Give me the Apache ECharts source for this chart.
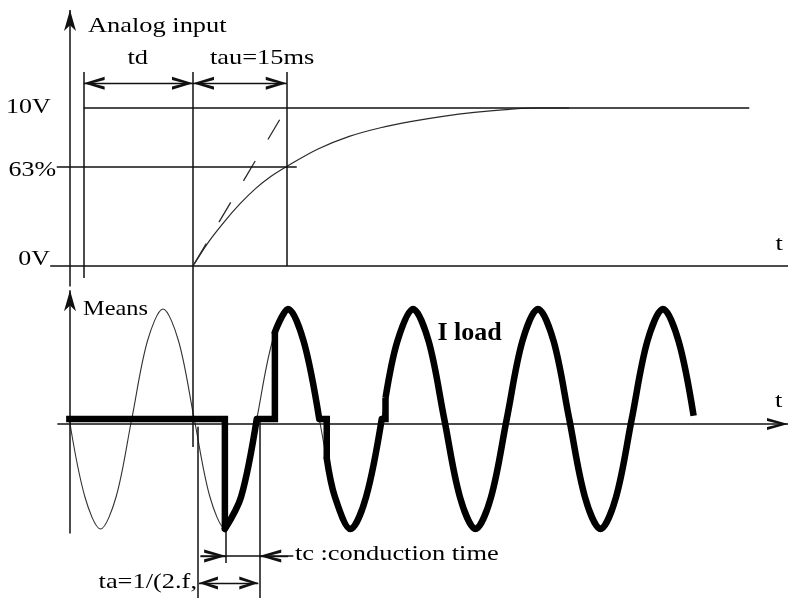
<!DOCTYPE html>
<html><head><meta charset="utf-8">
<script src="https://cdn.jsdelivr.net/npm/echarts@6/dist/echarts.min.js"></script>
<style>html,body{margin:0;padding:0;background:#fff}#c{width:788px;height:598px}</style>
</head><body><div id="c"></div>
<script>
// ===== DATA =====
// time axis in ms
const timeRange = [-4, 115];
// --- top panel: analog input (V) ---
const voltRange = [-12, 16.5];
const voltTickValues = [10, 6.3, 0];
const voltTickLabels = ['10V', '63%', '0V'];
const delayStart = 2.3;      // start of td
const stepTime = 19.8;       // end of td, start of ramp
const tauEnd = 34.8;         // stepTime + tau (15 ms)
const expTime = [19.8, 22.3, 24.8, 27.3, 29.8, 32.3, 34.8, 39.8, 44.8, 49.8, 54.8, 59.8, 64.8, 69.8, 74.8, 80];
const expVolt = [0, 1.53, 2.8, 3.93, 4.9, 5.68, 6.3, 7.4, 8.2, 8.75, 9.15, 9.47, 9.72, 9.9, 10, 10];
const tangentTime = [19.8, 33.85];
const tangentVolt = [0, 9.38];
// --- bottom panel: mains and load current (per-unit) ---
const signalRange = [-1.7, 1.5];
const mainsTime = [0, 2.5, 5, 7.5, 10, 12.5, 15, 17.5, 20, 22.5, 25, 27.5, 30, 32.5, 35, 37.5, 40, 42.5, 45, 47.5, 50, 52.5];
const mainsValue = [0, -0.707, -1, -0.707, 0, 0.707, 1, 0.707, 0, -0.707, -1, -0.707, 0, 0.707, 1, 0.707, 0, -0.707, -1, -0.707, 0, 0.707];
// zero-current intervals of the load current and the value reached at firing
const loadOffStart = [-0.5, 30, 40, 50];
const loadOffEnd = [24.9, 32.9, 41.2, 50.6];
const loadFireValue = [-1, 0.79, -0.36, 0.19];
// conducting arcs of the load current
const loadArcTime = [
  [24.9, 27.5, 30],
  [32.9, 35, 37.5, 40],
  [41.2, 42.5, 45, 47.5, 50],
  [50.6, 52.5, 55, 57.5, 60, 62.5, 65, 67.5, 70, 72.5, 75, 77.5, 80, 82.5, 85, 87.5, 90, 92.5, 95, 97.5, 99.9]
];
const loadArcValue = [
  [-1, -0.707, 0],
  [0.79, 1, 0.707, 0],
  [-0.36, -0.707, -1, -0.707, 0],
  [0.19, 0.707, 1, 0.707, 0, -0.707, -1, -0.707, 0, 0.707, 1, 0.707, 0, -0.707, -1, -0.707, 0, 0.707, 1, 0.707, 0.03]
];
const taTimes = [20.6, 30.4];   // ta = half period
const tcFire = 25.1;            // start of conduction
const labelTexts = ['Analog input', 'td', 'tau=15ms', 't', 'Means', 'I load', 't', 'tc :conduction time', 'ta=1/(2.f,'];

// ===== LAYOUT / STYLE =====
const INK = '#111';
const chevron = 'path://M6,0L12,20L9,20L6,8L3,20L0,20Z';
const stealth = 'path://M5,0L10,18L5,13L0,18Z';
const pxPerMs = 6.25, t0px = 69.25;
const gridLeft = t0px + timeRange[0] * pxPerMs;
const gridWidth = (timeRange[1] - timeRange[0]) * pxPerMs;
const pxPerVolt = 15.8, zeroVoltPx = 266;
const pxPerUnit = 110, zeroUnitPx = 419;

function lineSeries(grid, data, style, smooth, z) {
  return {type: 'line', xAxisIndex: grid, yAxisIndex: grid, data: data, smooth: smooth || false,
    showSymbol: false, symbol: 'none', clip: false, silent: true, animation: false,
    lineStyle: style, itemStyle: {color: style.color}, z: z || 2, emphasis: {disabled: true}};
}
// size = [w, h] of the arrow head (applies to both ends)
function markSeries(grid, segs, symbols, size, style, z) {
  return {type: 'line', xAxisIndex: grid, yAxisIndex: grid, data: [], clip: false, silent: true, animation: false, z: z || 3,
    markLine: {silent: true, animation: false, symbol: symbols, symbolSize: size,
      symbolOffset: [[0, size[1] / 2], [0, size[1] / 2]],
      label: {show: false}, emphasis: {disabled: true}, precision: 10,
      lineStyle: Object.assign({type: 'solid'}, style), itemStyle: {color: style.color},
      data: segs.map(s => [{coord: s[0]}, {coord: s[1]}])}};
}
const zip = (a, b) => a.map((x, i) => [x, b[i]]);
const thin = {color: INK, width: 1.5};

const series = [];
// top panel reference lines
series.push(markSeries(0, [
  [[-3.05, voltTickValues[2]], [timeRange[1], voltTickValues[2]]],
  [[delayStart, voltTickValues[0]], [108.8, voltTickValues[0]]],
  [[-2.0, voltTickValues[1]], [36.4, voltTickValues[1]]],
  [[delayStart, -0.76], [delayStart, 12.28]],
  [[stepTime, -11.46], [stepTime, 12.28]],
  [[tauEnd, 0], [tauEnd, 12.28]]
], ['none', 'none'], [1, 1], thin));
// top y axis with arrow
series.push(markSeries(0, [[[0.12, -1.3], [0.12, 16.2]]], ['none', stealth], [12, 21], thin));
// td and tau dimension arrows
series.push(markSeries(0, [
  [[delayStart, 11.56], [stepTime, 11.56]],
  [[stepTime, 11.56], [tauEnd, 11.56]]
], [chevron, chevron], [13, 21], {color: INK, width: 1.4}));
// exponential response
series.push(lineSeries(0, zip(expTime, expVolt), {color: '#2a2a2a', width: 1.2}, 0.33));
// initial tangent (dashed)
series.push(lineSeries(0, zip(tangentTime, tangentVolt), {color: '#2a2a2a', width: 1.3, type: [23, 25], dashOffset: 45}));

// bottom panel axes
series.push(markSeries(1, [[[0.12, -1.04], [0.12, 1.17]]], ['none', stealth], [12, 21], thin));
series.push(markSeries(1, [[[-1.9, -0.045], [timeRange[1], -0.045]]], ['none', chevron], [12, 21], thin));
// ta / tc helper lines
series.push(markSeries(1, [
  [[taTimes[0], -0.07], [taTimes[0], -1.7]],
  [[taTimes[1], 0.02], [taTimes[1], -1.7]],
  [[tcFire, -1.0], [tcFire, -1.31]],
  [[21.0, -1.245], [35.85, -1.245]]
], ['none', 'none'], [1, 1], thin));
series.push(markSeries(1, [
  [[21.0, -1.245], [tcFire, -1.245]],
  [[35.0, -1.245], [taTimes[1], -1.245]]
], ['none', chevron], [13, 22], {color: INK, width: 1.4}));
series.push(markSeries(1, [[[20.75, -1.49], [30.25, -1.49]]], [chevron, chevron], [13, 19], {color: INK, width: 1.4}));
// mains voltage (thin)
series.push(lineSeries(1, zip(mainsTime, mainsValue), {color: '#333', width: 1.1}, 0.33, 4));
// load current (thick)
const thick = {color: '#000', width: 6.5, cap: 'butt', join: 'miter'};
loadOffStart.forEach((s, i) => {
  series.push(lineSeries(1, [[s, 0], [loadOffEnd[i], 0], [loadOffEnd[i], loadFireValue[i]]], thick, false, 5));
  series.push(lineSeries(1, zip(loadArcTime[i], loadArcValue[i]), Object.assign({}, thick, {cap: i === 3 ? 'butt' : 'round'}), 0.33, 5));
});

const chart = echarts.init(document.getElementById('c'), null, {renderer: 'canvas'});
chart.setOption({
  backgroundColor: '#fff',
  animation: false,
  grid: [
    {left: gridLeft, width: gridWidth, top: zeroVoltPx - voltRange[1] * pxPerVolt, height: (voltRange[1] - voltRange[0]) * pxPerVolt, outerBoundsMode: 'none'},
    {left: gridLeft, width: gridWidth, top: zeroUnitPx - signalRange[1] * pxPerUnit, height: (signalRange[1] - signalRange[0]) * pxPerUnit, outerBoundsMode: 'none'}
  ],
  xAxis: [
    {gridIndex: 0, type: 'value', min: timeRange[0], max: timeRange[1], show: false},
    {gridIndex: 1, type: 'value', min: timeRange[0], max: timeRange[1], show: false}
  ],
  yAxis: [
    {gridIndex: 0, type: 'value', min: voltRange[0], max: voltRange[1], show: false},
    {gridIndex: 1, type: 'value', min: signalRange[0], max: signalRange[1], show: false}
  ],
  series: series
});

// text annotations, anchored in data coordinates
const font = 'Liberation Serif';
const textLayout = [
  // [text, grid, t, value, align, size, weight, scaleX]
  [voltTickLabels[0], 0, -2.97, 10.13, 'right', 22, 'normal', 1.18],
  [voltTickLabels[1], 0, -2.12, 6.18, 'right', 22, 'normal', 1.18],
  [voltTickLabels[2], 0, -3.08, 0.54, 'right', 22, 'normal', 1.18],
  [labelTexts[0], 0, 3.0, 15.3, 'left', 22, 'normal', 1.2],
  [labelTexts[1], 0, 9.3, 13.26, 'left', 22, 'normal', 1.2],
  [labelTexts[2], 0, 22.5, 13.23, 'left', 22, 'normal', 1.2],
  [labelTexts[3], 0, 113.0, 1.46, 'left', 22, 'normal', 1.2],
  [labelTexts[4], 1, 2.2, 1.009, 'left', 21, 'normal', 1.16],
  [labelTexts[5], 1, 58.9, 0.789, 'left', 26, 'bold', 1.0],
  [labelTexts[6], 1, 112.9, 0.177, 'left', 22, 'normal', 1.2],
  [labelTexts[7], 1, 36.1, -1.218, 'left', 22, 'normal', 1.2],
  [labelTexts[8], 1, 20.44, -1.468, 'right', 22, 'normal', 1.2]
];
const textNudgeY = 1.5;
const graphics = textLayout.map(d => {
  const p = chart.convertToPixel({gridIndex: d[1]}, [d[2], d[3]]);
  return {type: 'text', x: p[0], y: p[1] + textNudgeY, scaleX: d[7], silent: true, z: 10,
    style: {text: d[0], fontFamily: font, fontSize: d[5], fontWeight: d[6], fill: '#000',
      textAlign: d[4], align: d[4], textVerticalAlign: 'middle', verticalAlign: 'middle'}};
});
chart.setOption({graphic: graphics});
</script></body></html>
